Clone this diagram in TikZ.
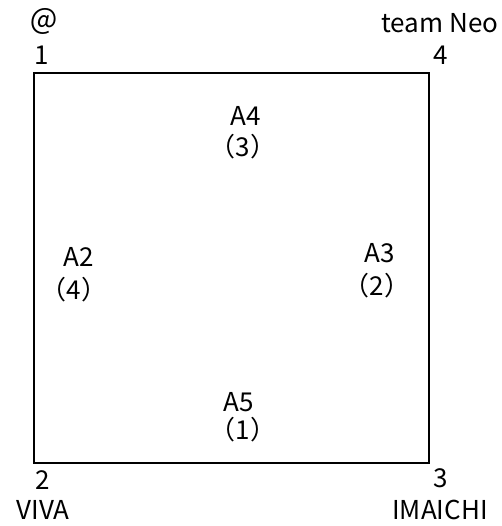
\documentclass[tikz,border=0pt]{standalone}
\usepackage{fontspec}
\setmainfont{Noto Sans CJK JP}
\usetikzlibrary{calc}

\begin{document}
\begin{tikzpicture}[x=1pt,y=-1pt,
                    every node/.style={font=\fontsize{26}{30}\selectfont,inner sep=0pt},
                    court/.style={line width=1.6pt}]
        \useasboundingbox (0,0) rectangle (501,526);
        % corners
        \coordinate (C1) at (34,73);
        \coordinate (C3) at (429,463);
        % field
        \draw[court] (C1) rectangle (C3);
        % corner numbers
        \node (n1) at (42,55)  {1};
        \node (n4) at (441,55) {4};
        \node (n2) at (43,480) {2};
        \node (n3) at (441,478) {3};
        % team names
        \node[font=\fontsize{29}{32}\selectfont] (t1) at (44,21) {＠};
        \node (t4) at (440,23)  {team Neo};
        \node (t2) at (43,510)  {VIVA};
        \node (t3) at (440,510) {IMAICHI};
        % positions
        \node (a4) at (246,116) {A4};
        \node (p3) at (243,147) {（3）};
        \node (a2) at (79,257)  {A2};
        \node (p4) at (74,290)  {（4）};
        \node (a3) at (380,253) {A3};
        \node (p2) at (377,286) {（2）};
        \node (a5) at (239,402) {A5};
        \node (p1) at (243,430) {（1）};
      \end{tikzpicture}
\end{document}
